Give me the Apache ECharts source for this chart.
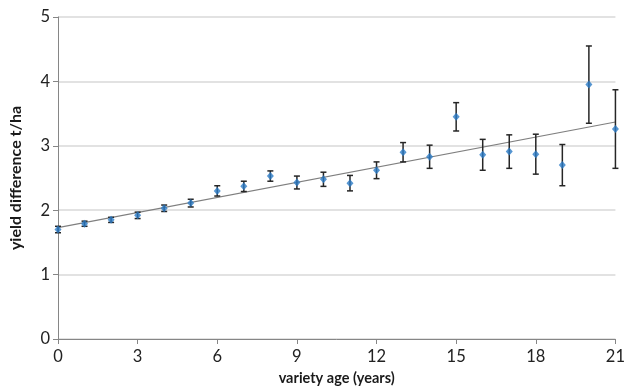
<!DOCTYPE html>
<html><head><meta charset="utf-8">
<script src="https://cdn.jsdelivr.net/npm/echarts@6/dist/echarts.min.js"></script>
<style>html,body{margin:0;padding:0;background:#fff}#c{width:628px;height:391px}</style>
</head><body><div id="c"></div>
<script>
const ages = [0,1,2,3,4,5,6,7,8,9,10,11,12,13,14,15,16,17,18,19,20,21];
const yieldDiff = [1.70,1.79,1.85,1.92,2.03,2.11,2.30,2.37,2.53,2.43,2.48,2.42,2.62,2.90,2.83,3.45,2.86,2.91,2.87,2.70,3.95,3.26];
const errors = [0.05,0.04,0.04,0.05,0.05,0.06,0.08,0.08,0.08,0.10,0.11,0.12,0.13,0.15,0.18,0.22,0.24,0.26,0.31,0.32,0.60,0.61];
const trendX = [0,21];
const trendY = [1.73,3.37];
const xTicks = [0,3,6,9,12,15,18,21];

const font = 'Lato';
const chart = echarts.init(document.getElementById('c'));
chart.setOption({
  animation:false,
  grid:{left:56,right:9,top:17,bottom:52},
  xAxis:{type:'value',min:0,max:21,interval:3,
    name:'variety age (years)',nameLocation:'middle',nameGap:32,
    nameTextStyle:{fontFamily:font,fontWeight:'bold',fontSize:14.5,color:'#1a1a1a'},
    axisLine:{lineStyle:{color:'#868686',width:1}},
    axisTick:{show:true,length:5,lineStyle:{color:'#868686'}},
    axisLabel:{fontFamily:font,fontSize:16.5,color:'#222',margin:9},
    splitLine:{show:false}},
  yAxis:{type:'value',min:0,max:5,interval:1,
    name:'yield difference t/ha',nameLocation:'middle',nameGap:34,nameRotate:90,
    nameTextStyle:{fontFamily:font,fontWeight:'bold',fontSize:16,color:'#1a1a1a'},
    axisLine:{show:true,lineStyle:{color:'#868686',width:1}},
    axisTick:{show:true,length:5,lineStyle:{color:'#868686'}},
    axisLabel:{fontFamily:font,fontSize:16.5,color:'#222',margin:8},
    splitLine:{lineStyle:{color:'#d9d9d9',width:1.5}}},
  series:[
    {type:'line',data:trendX.map((x,i)=>[x,trendY[i]]),symbol:'none',
     lineStyle:{color:'#7f7f7f',width:1.2},z:2},
    {type:'custom',z:3,
     data:ages.map((x,i)=>[x,yieldDiff[i]-errors[i],yieldDiff[i]+errors[i]]),
     renderItem:function(params,api){
       const lo=api.coord([api.value(0),api.value(1)]);
       const hi=api.coord([api.value(0),api.value(2)]);
       const w=3;
       const st={stroke:'#262626',lineWidth:1.5};
       return {type:'group',children:[
         {type:'line',shape:{x1:lo[0],y1:lo[1],x2:hi[0],y2:hi[1]},style:st},
         {type:'line',shape:{x1:lo[0]-w,y1:lo[1],x2:lo[0]+w,y2:lo[1]},style:st},
         {type:'line',shape:{x1:hi[0]-w,y1:hi[1],x2:hi[0]+w,y2:hi[1]},style:st}
       ]};
     }},
    {type:'scatter',z:4,data:ages.map((x,i)=>[x,yieldDiff[i]]),
     symbol:'diamond',symbolSize:[7,8],itemStyle:{color:'#2a7bc6'}}
  ]
});
</script></body></html>
